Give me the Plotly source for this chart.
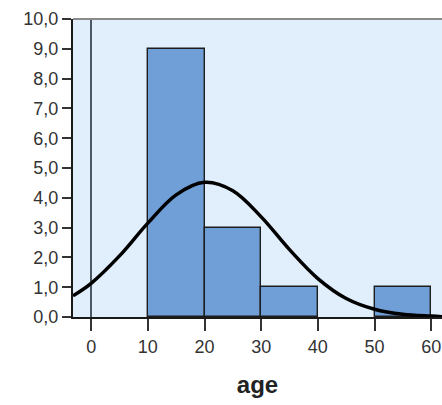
import plotly.graph_objects as go

# Histogram bins (left edges), counts
bin_left = [10, 20, 30, 50]
counts = [9, 3, 1, 1]
bin_width = 10

# Normal curve, values
curve_x = [-3.2, 0, 5, 10, 15, 20, 25, 30, 35, 40, 45, 50, 55, 60, 62]
curve_y = [0.71, 1.13, 2.05, 3.15, 4.10, 4.52, 4.24, 3.36, 2.26, 1.29, 0.62, 0.26, 0.09, 0.03, 0.01]

x_ticks = [0, 10, 20, 30, 40, 50, 60]
y_ticks = [0, 1, 2, 3, 4, 5, 6, 7, 8, 9, 10]

fig = go.Figure()
fig.add_trace(go.Bar(
    x=bin_left, y=counts, width=[bin_width] * len(bin_left), offset=0,
    marker=dict(color="#6f9fd6", line=dict(color="#1c1c1c", width=1.4)),
    showlegend=False,
))
fig.add_trace(go.Scatter(
    x=curve_x, y=curve_y, mode="lines", line=dict(color="black", width=3.5, shape="spline"),
    showlegend=False,
))

fig.update_layout(
    width=442, height=405,
    margin=dict(l=73, r=0, t=19, b=88),
    paper_bgcolor="white", plot_bgcolor="#e1eefb",
    separators=",.",
    font=dict(family="Liberation Sans, Arial", size=18, color="#333333"),
    bargap=0,
    shapes=[dict(type="line", xref="paper", yref="paper", x0=0, x1=1, y0=1, y1=1,
                 line=dict(color="#8a8a8a", width=2))],
)
fig.update_xaxes(
    range=[-3.2, 61.9], tickvals=x_ticks, ticks="outside", ticklen=12, tickwidth=1.5,
    tickcolor="#333333", showgrid=False, showline=True, linecolor="#1a1a1a", linewidth=2,
    zeroline=True, zerolinecolor="#4c5866", zerolinewidth=1.5,
    tickfont=dict(size=18),
    title=dict(text="<b>age</b>", font=dict(size=24, color="#222222"), standoff=21),
)
fig.update_yaxes(
    range=[0, 10], tickvals=y_ticks, tickformat=".1f", ticks="outside", ticklen=9, tickwidth=2,
    tickcolor="#333333", showgrid=False, showline=True, linecolor="#1a1a1a", linewidth=2,
    zeroline=False, tickfont=dict(size=18),
)

fig.write_html("out.html")
